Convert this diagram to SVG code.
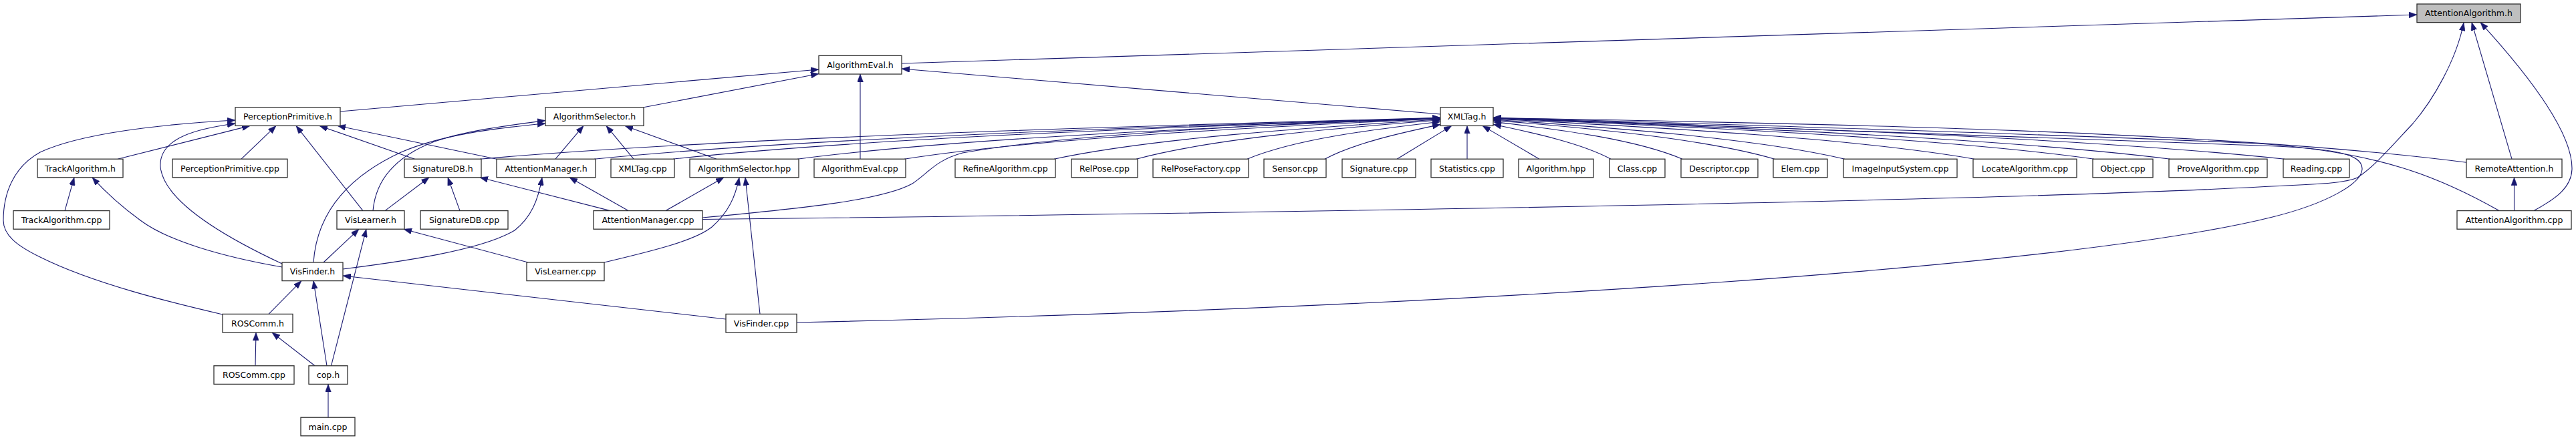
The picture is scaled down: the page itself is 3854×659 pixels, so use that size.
<svg xmlns="http://www.w3.org/2000/svg" width="3854" height="659" viewBox="0 0 3854 659">
<style>
.node rect{fill:#ffffff;stroke:#303030;stroke-width:1.3}
.node.root rect{fill:#bfbfbf}
.node text{font-family:"DejaVu Sans","Liberation Sans",sans-serif;font-size:12.5px;fill:#000;text-anchor:middle}
.edges path{fill:none;stroke:#191970;stroke-width:1.1;marker-end:url(#arr)}
</style>
<defs>
<marker id="arr" markerUnits="userSpaceOnUse" viewBox="0 0 12 9" markerWidth="12" markerHeight="9" refX="12" refY="4.5" orient="auto">
<path d="M0,0 L12,4.5 L0,9 Z" fill="#191970" stroke="#191970" stroke-width="0.5"/>
</marker>
</defs>
<rect width="3854" height="659" fill="#ffffff"/>
<g class="edges">
<!-- to AttentionAlgorithm.h -->
<path d="M1349,95 L3616,22"/>
<path d="M1051,328.5 C2000,318 3000,300 3380,280 C3450,276 3505,276 3527,266 C3552,250 3580,217 3610,185 C3640,150 3675,90 3686,34"/>
<path d="M3758,238.2 L3698,33.6"/>
<path d="M3791,315.6 C3825,297 3848,280 3848,252 C3848,200 3790,120 3711,33.6"/>
<!-- to AlgorithmEval.h -->
<path d="M509,167 L1225,104"/>
<path d="M963,160.8 L1225,110.5"/>
<path d="M1287,238.2 L1287,111"/>
<path d="M2155,171 L1349,103"/>
<!-- to PerceptionPrimitive.h -->
<path d="M176,238.2 L374,188.4"/>
<path d="M361,238.2 L413,188.4"/>
<path d="M543,315.6 L443,188.4"/>
<path d="M620.5,238.2 L478,188.4"/>
<path d="M743,238.2 L505,188.4"/>
<path d="M422,395 C330,352 245,300 240,250 C237,205 300,192 352,185"/>
<path d="M333,471 C260,454 140,425 60,385 C25,368 5,352 5,330 C5,290 20,250 60,228 C120,200 240,186 352,180"/>
<!-- to AlgorithmSelector.h -->
<path d="M831,238.2 L873,188.4"/>
<path d="M948,238.2 L907,188.4"/>
<path d="M1072,238.2 L935,188.4"/>
<path d="M558,315.6 C562,270 590,235 650,212 C700,195 760,188 816,180.5"/>
<path d="M469,393 C474,320 520,265 600,228 C660,202 740,192 816,185"/>
<!-- to XMLTag.h (left side) -->
<path d="M718,238.2 C1077.3,206.7 1652,190 2155,176.3"/>
<path d="M889,238.2 C1205.5,206.8 1711.9,190.1 2155,176.5"/>
<path d="M1007,238.2 C1294,206.8 1753.2,190.2 2155,176.7"/>
<path d="M1193,238.2 C1433.5,207 1818.3,190.5 2155,177.1"/>
<path d="M1353,238.2 C1553.5,207.1 1874.3,190.8 2155,177.6"/>
<path d="M1577,238.2 C1721.5,207.3 1952.7,191.5 2155,178.7"/>
<path d="M1700,238.2 C1813.75,207.6 1995.75,192.2 2155,179.7"/>
<path d="M1866,238.2 C1938.25,208.2 2053.9,193.8 2155,182.2"/>
<path d="M1982,238.2 C2025.25,214.85 2094.5,199.3 2155,186.4"/>
<path d="M2090,238.2 L2171.8,188.4"/>
<path d="M2195,238.2 L2195,188.4"/>
<path d="M1051,326 C1200,312 1320,300 1365,275 C1390,258 1400,240 1440,229 C1600,200 1950,183 2155,177.5"/>
<!-- to XMLTag.h (right side) -->
<path d="M2303,238.2 L2218,188.4"/>
<path d="M2410,238.2 C2366,214.6 2295.6,199.2 2234,186.3"/>
<path d="M2517,238.2 C2446.25,208.25 2333.05,193.9 2234,182.4"/>
<path d="M2655,238.2 C2549.75,207.7 2381.35,192.4 2234,180.1"/>
<path d="M2760,238.2 C2628.5,207.4 2418.1,191.7 2234,179"/>
<path d="M2954,238.2 C2774,207.1 2486,191 2234,177.9"/>
<path d="M3133,238.2 C2908.25,207 2548.65,190.6 2234,177.3"/>
<path d="M3247,238.2 C2993.75,206.9 2588.55,190.4 2234,177"/>
<path d="M3418,238.2 C3122,206.8 2648.4,190.2 2234,176.7"/>
<path d="M3690,243.3 C3326,196.65 2743.6,185 2234,176.7"/>
<path d="M3739,315.6 C3650,265 3560,228 3380,215 C3000,198 2500,184 2234,176"/>
<path d="M1192,483 C2200,460 3100,400 3400,325 C3480,305 3535,275 3534,252 C3533,232 3500,222 3380,218 C3000,205 2500,185 2234,176.8"/>
<!-- to TrackAlgorithm.h -->
<path d="M97,315.6 L111,265.8"/>
<path d="M422,400 C330,384 250,360 210,330 C180,308 160,290 138,265.8"/>
<!-- to SignatureDB.h -->
<path d="M576,315.6 L642,265.8"/>
<path d="M688,315.6 L670,265.8"/>
<path d="M913,315.6 L718,265.8"/>
<!-- to AttentionManager.h -->
<path d="M940,315.6 L852,265.8"/>
<path d="M513,403 C600,392 720,375 770,345 C795,325 805,300 811,265.8"/>
<!-- to AlgorithmSelector.hpp -->
<path d="M996,315.6 L1083,265.8"/>
<path d="M904,393 C980,375 1040,360 1065,340 C1090,318 1100,295 1106,265.8"/>
<path d="M1137,470.4 L1115,265.8"/>
<!-- to RemoteAttention.h -->
<path d="M3761.5,315.6 L3761.5,265.8"/>
<!-- to VisLearner.h -->
<path d="M484,393 L537,343.2"/>
<path d="M495.5,547.8 L548,343.2"/>
<path d="M790,393 L604,343.2"/>
<!-- to VisFinder.h -->
<path d="M402,470.4 L451,420.6"/>
<path d="M489,547.8 L469,420.6"/>
<path d="M1086,478 L513,413"/>
<!-- to ROSComm.h -->
<path d="M382,547.8 L383,498"/>
<path d="M471,547.8 L407,498"/>
<!-- to cop.h -->
<path d="M491,625.2 L491,575.4"/>
</g>
<g id="n-AttentionAlgorithm_h" class="node root"><rect x="3616" y="6" width="155" height="27.6"/><text x="3693.5" y="24.3">AttentionAlgorithm.h</text></g>
<g id="n-AlgorithmEval_h" class="node"><rect x="1225" y="83.4" width="124" height="27.6"/><text x="1287" y="101.7">AlgorithmEval.h</text></g>
<g id="n-PerceptionPrimitive_h" class="node"><rect x="352" y="160.8" width="157" height="27.6"/><text x="430.5" y="179.1">PerceptionPrimitive.h</text></g>
<g id="n-AlgorithmSelector_h" class="node"><rect x="816" y="160.8" width="147" height="27.6"/><text x="889.5" y="179.1">AlgorithmSelector.h</text></g>
<g id="n-XMLTag_h" class="node"><rect x="2155" y="160.8" width="79" height="27.6"/><text x="2194.5" y="179.1">XMLTag.h</text></g>
<g id="n-TrackAlgorithm_h" class="node"><rect x="56" y="238.2" width="128" height="27.6"/><text x="120" y="256.5">TrackAlgorithm.h</text></g>
<g id="n-PerceptionPrimitive_cpp" class="node"><rect x="258" y="238.2" width="172" height="27.6"/><text x="344" y="256.5">PerceptionPrimitive.cpp</text></g>
<g id="n-SignatureDB_h" class="node"><rect x="605" y="238.2" width="115" height="27.6"/><text x="662.5" y="256.5">SignatureDB.h</text></g>
<g id="n-AttentionManager_h" class="node"><rect x="743" y="238.2" width="148" height="27.6"/><text x="817" y="256.5">AttentionManager.h</text></g>
<g id="n-XMLTag_cpp" class="node"><rect x="914" y="238.2" width="95" height="27.6"/><text x="961.5" y="256.5">XMLTag.cpp</text></g>
<g id="n-AlgorithmSelector_hpp" class="node"><rect x="1032" y="238.2" width="163" height="27.6"/><text x="1113.5" y="256.5">AlgorithmSelector.hpp</text></g>
<g id="n-AlgorithmEval_cpp" class="node"><rect x="1218" y="238.2" width="137" height="27.6"/><text x="1286.5" y="256.5">AlgorithmEval.cpp</text></g>
<g id="n-RefineAlgorithm_cpp" class="node"><rect x="1429" y="238.2" width="150" height="27.6"/><text x="1504" y="256.5">RefineAlgorithm.cpp</text></g>
<g id="n-RelPose_cpp" class="node"><rect x="1603" y="238.2" width="99" height="27.6"/><text x="1652.5" y="256.5">RelPose.cpp</text></g>
<g id="n-RelPoseFactory_cpp" class="node"><rect x="1725" y="238.2" width="143" height="27.6"/><text x="1796.5" y="256.5">RelPoseFactory.cpp</text></g>
<g id="n-Sensor_cpp" class="node"><rect x="1891" y="238.2" width="93" height="27.6"/><text x="1937.5" y="256.5">Sensor.cpp</text></g>
<g id="n-Signature_cpp" class="node"><rect x="2008" y="238.2" width="110" height="27.6"/><text x="2063" y="256.5">Signature.cpp</text></g>
<g id="n-Statistics_cpp" class="node"><rect x="2141" y="238.2" width="108" height="27.6"/><text x="2195" y="256.5">Statistics.cpp</text></g>
<g id="n-Algorithm_hpp" class="node"><rect x="2272" y="238.2" width="112" height="27.6"/><text x="2328" y="256.5">Algorithm.hpp</text></g>
<g id="n-Class_cpp" class="node"><rect x="2408" y="238.2" width="83" height="27.6"/><text x="2449.5" y="256.5">Class.cpp</text></g>
<g id="n-Descriptor_cpp" class="node"><rect x="2515" y="238.2" width="115" height="27.6"/><text x="2572.5" y="256.5">Descriptor.cpp</text></g>
<g id="n-Elem_cpp" class="node"><rect x="2653" y="238.2" width="81" height="27.6"/><text x="2693.5" y="256.5">Elem.cpp</text></g>
<g id="n-ImageInputSystem_cpp" class="node"><rect x="2758" y="238.2" width="170" height="27.6"/><text x="2843" y="256.5">ImageInputSystem.cpp</text></g>
<g id="n-LocateAlgorithm_cpp" class="node"><rect x="2952" y="238.2" width="155" height="27.6"/><text x="3029.5" y="256.5">LocateAlgorithm.cpp</text></g>
<g id="n-Object_cpp" class="node"><rect x="3131" y="238.2" width="90" height="27.6"/><text x="3176" y="256.5">Object.cpp</text></g>
<g id="n-ProveAlgorithm_cpp" class="node"><rect x="3245" y="238.2" width="147" height="27.6"/><text x="3318.5" y="256.5">ProveAlgorithm.cpp</text></g>
<g id="n-Reading_cpp" class="node"><rect x="3416" y="238.2" width="99" height="27.6"/><text x="3465.5" y="256.5">Reading.cpp</text></g>
<g id="n-RemoteAttention_h" class="node"><rect x="3690" y="238.2" width="143" height="27.6"/><text x="3761.5" y="256.5">RemoteAttention.h</text></g>
<g id="n-TrackAlgorithm_cpp" class="node"><rect x="20" y="315.6" width="144" height="27.6"/><text x="92" y="333.9">TrackAlgorithm.cpp</text></g>
<g id="n-VisLearner_h" class="node"><rect x="504" y="315.6" width="101" height="27.6"/><text x="554.5" y="333.9">VisLearner.h</text></g>
<g id="n-SignatureDB_cpp" class="node"><rect x="629" y="315.6" width="131" height="27.6"/><text x="694.5" y="333.9">SignatureDB.cpp</text></g>
<g id="n-AttentionManager_cpp" class="node"><rect x="888" y="315.6" width="163" height="27.6"/><text x="969.5" y="333.9">AttentionManager.cpp</text></g>
<g id="n-AttentionAlgorithm_cpp" class="node"><rect x="3676" y="315.6" width="171" height="27.6"/><text x="3761.5" y="333.9">AttentionAlgorithm.cpp</text></g>
<g id="n-VisFinder_h" class="node"><rect x="422" y="393" width="91" height="27.6"/><text x="467.5" y="411.3">VisFinder.h</text></g>
<g id="n-VisLearner_cpp" class="node"><rect x="788" y="393" width="116" height="27.6"/><text x="846" y="411.3">VisLearner.cpp</text></g>
<g id="n-ROSComm_h" class="node"><rect x="333" y="470.4" width="105" height="27.6"/><text x="385.5" y="488.7">ROSComm.h</text></g>
<g id="n-VisFinder_cpp" class="node"><rect x="1086" y="470.4" width="106" height="27.6"/><text x="1139" y="488.7">VisFinder.cpp</text></g>
<g id="n-ROSComm_cpp" class="node"><rect x="320" y="547.8" width="120" height="27.6"/><text x="380" y="566.1">ROSComm.cpp</text></g>
<g id="n-cop_h" class="node"><rect x="462" y="547.8" width="58" height="27.6"/><text x="491" y="566.1">cop.h</text></g>
<g id="n-main_cpp" class="node"><rect x="450" y="625.2" width="81" height="27.6"/><text x="490.5" y="643.5">main.cpp</text></g>
</svg>
